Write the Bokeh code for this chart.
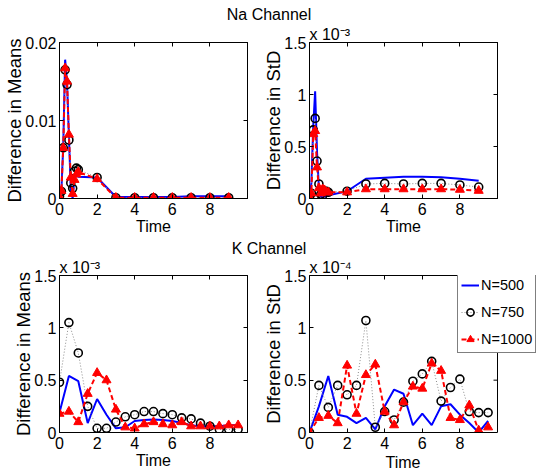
from bokeh.plotting import figure
from bokeh.models import (Range1d, FixedTicker, CustomJSTickFormatter, LinearAxis,
                          Legend, LegendItem, Title, Span)
from bokeh.layouts import column, row
from bokeh.embed import file_html
from bokeh.resources import INLINE

# ---------------- data ----------------
x_na = [0, 0.1, 0.2, 0.3, 0.4, 0.5, 0.6, 0.7, 0.8, 0.9, 1, 2, 3, 4, 5, 6, 7, 8, 9]
na_mean_500 = [0.0002, 0.0010, 0.0068, 0.0178, 0.0150, 0.0080, 0.0012, 0.0000, 0.0028, 0.0029,
               0.0028, 0.0027, 0.0002, 0.0002, 0.0002, 0.0002, 0.0003, 0.0003, 0.0003]
na_mean_750 = [0.0003, 0.0009, 0.0065, 0.0165, 0.0146, 0.0075, 0.0020, 0.0013, 0.0035, 0.0039,
               0.0037, 0.0027, 0.0001, 0.0001, 0.0001, 0.0001, 0.0001, 0.0001, 0.0001]
na_mean_1000 = [0.0002, 0.0010, 0.0065, 0.0167, 0.0150, 0.0082, 0.0027, 0.0006, 0.0024, 0.0031,
                0.0034, 0.0025, 0.0001, 0.0001, 0.0001, 0.0001, 0.0001, 0.0001, 0.0001]

# Na StD, in units of 1e-3
na_std_500 = [0.00, 0.15, 0.70, 1.03, 0.45, 0.10, 0.02, 0.01, 0.02, 0.02,
              0.03, 0.07, 0.19, 0.20, 0.21, 0.21, 0.205, 0.19, 0.17]
na_std_750 = [0.01, 0.05, 0.66, 0.77, 0.36, 0.14, 0.04, 0.03, 0.07, 0.07,
              0.06, 0.07, 0.14, 0.145, 0.14, 0.145, 0.145, 0.13, 0.11]
na_std_1000 = [0.01, 0.05, 0.62, 0.65, 0.30, 0.10, 0.05, 0.09, 0.08, 0.06,
               0.06, 0.06, 0.09, 0.09, 0.09, 0.09, 0.09, 0.085, 0.075]

x_k = [0, 0.5, 1, 1.5, 2, 2.5, 3, 3.5, 4, 4.5, 5, 5.5, 6, 6.5, 7, 7.5, 8, 8.5, 9, 9.5]
# K means, in units of 1e-3
k_mean_500 = [0.19, 0.54, 0.49, 0.09, 0.32, 0.17, 0.04, 0.05, 0.11, 0.12,
              0.125, 0.12, 0.11, 0.09, 0.07, 0.06, 0.06, 0.06, 0.07, 0.07]
k_mean_750 = [0.48, 1.05, 0.76, 0.25, 0.04, 0.04, 0.10, 0.15, 0.17, 0.20,
              0.20, 0.18, 0.17, 0.14, 0.13, 0.09, 0.06, 0.03, 0.03, 0.03]
k_mean_1000 = [0.18, 0.20, 0.10, 0.37, 0.57, 0.50, 0.22, 0.05, 0.04, 0.08,
               0.10, 0.08, 0.07, 0.10, 0.06, 0.06, 0.06, 0.06, 0.07, 0.07]
# K StD, in units of 1e-4
k_std_500 = [0.0, 0.25, 0.54, 0.17, 0.15, 0.09, 0.14, 0.03, 0.25, 0.41,
             0.37, 0.07, 0.18, 0.07, 0.25, 0.27, 0.17, 0.09, 0.0, 0.11]
k_std_750 = [0.0, 0.45, 0.24, 0.45, 0.36, 0.45, 1.07, 0.05, 0.20, 0.12,
             0.29, 0.49, 0.56, 0.68, 0.30, 0.43, 0.51, 0.20, 0.19, 0.19]
k_std_1000 = [0.0, 0.14, 0.16, 0.09, 0.64, 0.18, 0.55, 0.65, 0.20, 0.07,
              0.29, 0.44, 0.42, 0.66, 0.59, 0.14, 0.12, 0.26, 0.02, 0.05]

x_ticks = [0, 2, 4, 6, 8]
x_max = 10
series_labels = ["N=500", "N=750", "N=1000"]
titles = ["Na Channel", "K Channel"]

FONT = "Liberation Sans"
FMT = "return String(Number(tick.toFixed(4)))"
FRAME_W = 188


def style_axis(ax, ticks, label_standoff):
    ax.ticker = FixedTicker(ticks=ticks)
    ax.formatter = CustomJSTickFormatter(code=FMT)
    ax.major_tick_in = 4
    ax.major_tick_out = 0
    ax.minor_tick_in = 0
    ax.minor_tick_out = 0
    ax.major_tick_line_color = "black"
    ax.axis_line_color = "black"
    ax.major_label_standoff = label_standoff
    ax.major_label_text_font = FONT
    ax.major_label_text_font_size = "16px"
    ax.major_label_text_color = "black"
    ax.axis_label_text_font_style = "normal"
    ax.axis_label_text_color = "black"


def blank_axis(ticks, bounds="auto"):
    return LinearAxis(ticker=FixedTicker(ticks=ticks),
                      formatter=CustomJSTickFormatter(code="return ''"),
                      major_tick_in=4, major_tick_out=0, minor_tick_in=0,
                      minor_tick_out=0, major_label_standoff=0,
                      major_label_text_font_size="1px",
                      axis_line_color="black", bounds=bounds)


def panel(x, s500, s750, s1000, ymax, yticks, ylabel, expo, frame_h,
          left, right, top, bottom, legend=False):
    extra = 230 if legend else FRAME_W
    xr = Range1d(0, x_max * extra / FRAME_W)
    p = figure(frame_width=extra, frame_height=frame_h,
               x_range=xr, y_range=Range1d(0, ymax),
               output_backend="svg", toolbar_location=None,
               min_border_left=left, min_border_right=right,
               min_border_top=top, min_border_bottom=bottom,
               background_fill_color="white", border_fill_color="white",
               outline_line_color=None if legend else "black",
               outline_line_width=1, title=expo)
    p.title.align = "left"
    p.title.text_font = FONT
    p.title.text_font_size = "16px"
    p.title.text_font_style = "normal"
    p.title.text_color = "black"
    p.title.standoff = 0
    p.grid.visible = False
    style_axis(p.xaxis[0], x_ticks, 4)
    style_axis(p.yaxis[0], yticks, 3)
    p.xaxis[0].axis_label_text_font = FONT
    p.xaxis[0].axis_label_text_font_size = "16px"
    p.xaxis[0].axis_label_standoff = 0
    p.yaxis[0].axis_label = ylabel
    p.yaxis[0].axis_label_text_font = FONT
    p.yaxis[0].axis_label_text_font_size = "18.5px"
    p.yaxis[0].axis_label_standoff = -3

    if legend:
        # frame is widened to hold the legend; the box ends at x = 10
        p.xaxis[0].bounds = (0, x_max)
        p.add_layout(blank_axis(x_ticks, (0, x_max)), "above")
        p.add_layout(Span(location=x_max, dimension="height",
                          line_color="black", line_width=1))
        tick_len = 4 * x_max / FRAME_W
        p.segment(x0=[x_max - tick_len] * len(yticks), y0=yticks,
                  x1=[x_max] * len(yticks), y1=yticks,
                  line_color="black", line_width=1)
        p.add_layout(Title(text="Time", align="left", offset=76,
                           text_font=FONT, text_font_size="16px",
                           text_font_style="normal", text_color="black",
                           standoff=0), "below")
    else:
        p.xaxis[0].axis_label = "Time"
        p.add_layout(blank_axis(yticks), "right")
        p.add_layout(blank_axis(x_ticks), "above")

    l500 = p.line(x, s500, line_color="#0000ff", line_width=2)
    l750 = p.line(x, s750, line_color="#8c8c8c", line_width=1, line_dash="1 2")
    c750 = p.scatter(x, s750, marker="circle", size=8, fill_color=None,
                     line_color="black", line_width=1.6)
    l1000 = p.line(x, s1000, line_color="#ff0000", line_width=2, line_dash="5 3")
    c1000 = p.scatter(x, s1000, marker="triangle", size=9, fill_color="#ff0000",
                      line_color="#ff0000", line_width=1)

    if legend:
        lg = Legend(items=[LegendItem(label=series_labels[0], renderers=[l500]),
                           LegendItem(label=series_labels[1], renderers=[l750, c750]),
                           LegendItem(label=series_labels[2], renderers=[l1000, c1000])],
                    location=(148, 79), padding=3, spacing=7, margin=0,
                    glyph_width=18, glyph_height=20, label_height=20,
                    label_standoff=2, label_text_font=FONT,
                    label_text_font_size="14.5px", label_text_color="black",
                    border_line_color="black", border_line_width=1,
                    background_fill_color="white", background_fill_alpha=1)
        p.add_layout(lg)
    return p


def title_fig(h, text, top):
    t = figure(width=537, height=h, x_range=Range1d(0, 1), y_range=Range1d(0, 1),
               output_backend="svg", toolbar_location=None,
               min_border_left=0, min_border_right=0, min_border_bottom=0,
               min_border_top=top, x_axis_location=None, y_axis_location=None,
               outline_line_color=None, background_fill_color="white",
               border_fill_color="white", title=text)
    t.grid.visible = False
    t.title.align = "center"
    t.title.text_font = FONT
    t.title.text_font_size = "16px"
    t.title.text_font_style = "normal"
    t.title.text_color = "black"
    t.title.standoff = 0
    return t


t1 = title_fig(23, titles[0], 22)
p1 = panel(x_na, na_mean_500, na_mean_750, na_mean_1000, 0.02, [0, 0.01, 0.02],
           "Difference in Means", "", 156, 59, 13, 18, 40)
p2 = panel(x_na, na_std_500, na_std_750, na_std_1000, 1.5, [0, 0.5, 1, 1.5],
           "Difference in StD", "x 10\u207b\u00b3", 156, 46, 43, 18, 40)
t2 = title_fig(18, titles[1], 17)
p3 = panel(x_k, k_mean_500, k_mean_750, k_mean_1000, 1.5, [0, 0.5, 1, 1.5],
           "Difference in Means", "x 10\u207b\u00b3", 157, 59, 13, 18, 45)
p4 = panel(x_k, k_std_500, k_std_750, k_std_1000, 1.5, [0, 0.5, 1, 1.5],
           "Difference in StD", "x 10\u207b\u2074", 157, 46, 1, 18, 45, legend=True)

layout = column(t1, row(p1, p2), t2, row(p3, p4))
open("out.html", "w").write(file_html(layout, INLINE))
